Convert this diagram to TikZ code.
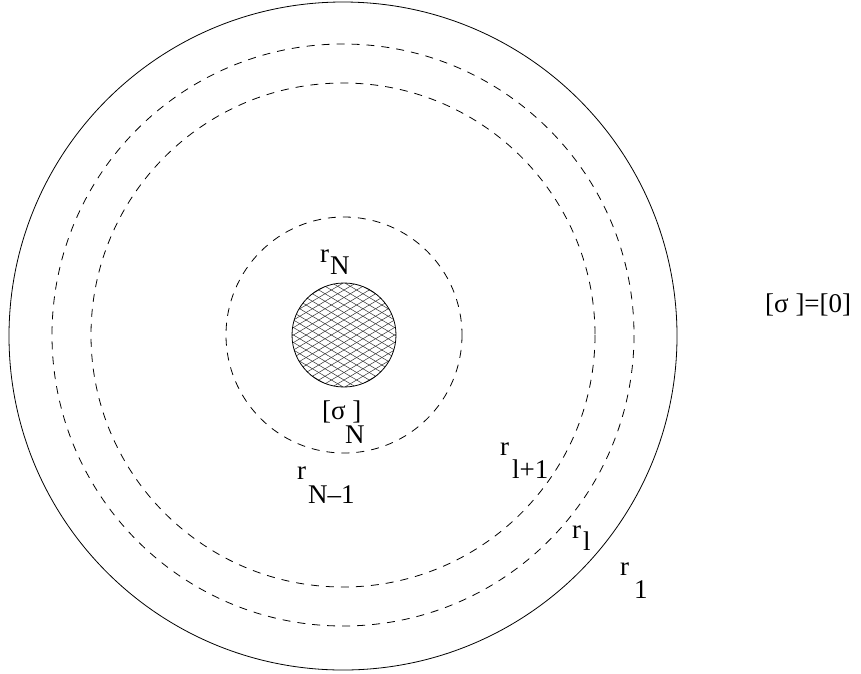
\documentclass[tikz,border=0pt]{standalone}
\usepackage{fontspec}
\setmainfont{Liberation Serif}
\begin{document}
\begin{tikzpicture}[x=1pt, y=-1pt,
    lbl/.style={anchor=base west, inner sep=0pt, font=\fontsize{27}{31}\selectfont},
    shell/.style={dash pattern=on 8pt off 7pt, line width=0.8pt}]
    \useasboundingbox (0,0) rectangle (861,673);

    % Outer boundary and shells
    \draw[line width=0.8pt] (343,336) circle [radius=334];
    \draw[shell] (343,335) circle [radius=291];
    \draw[shell] (343,335) circle [radius=252];
    \draw[shell] (344,335) circle [radius=118];

    % Hatched core
    \begin{scope}
        \clip (344,335) circle [radius=52];
        \foreach \k in {-12,...,12} {
            \draw[gray!40!black, line width=0.5pt] (280,{335+\k*7.5-38}) -- (408,{335+\k*7.5+38});
            \draw[gray!40!black, line width=0.5pt] (280,{335+\k*7.5+38}) -- (408,{335+\k*7.5-38});
        }
    \end{scope}
    \draw[line width=0.8pt] (344,335) circle [radius=52];

    % Labels
    \node[lbl] (rN) at (320,262) {r};
    \node[lbl] (rNsub) at (330,274) {N};
    \node[lbl] (sigN) at (322,419) {[σ ]};
    \node[lbl] (sigNsub) at (345,443) {N};
    \node[lbl] (rNm) at (297,479) {r};
    \node[lbl] (rNmsub) at (308,503) {N–1};
    \node[lbl] (rlp) at (500,455) {r};
    \node[lbl] (rlpsub) at (512,478) {l+1};
    \node[lbl] (rl) at (572,538) {r};
    \node[lbl] (rlsub) at (583,550) {l};
    \node[lbl] (rone) at (620,575) {r};
    \node[lbl] (ronesub) at (634,598) {1};
    \node[lbl] (sigzero) at (765,312) {[σ ]=[0]};
\end{tikzpicture}
\end{document}
